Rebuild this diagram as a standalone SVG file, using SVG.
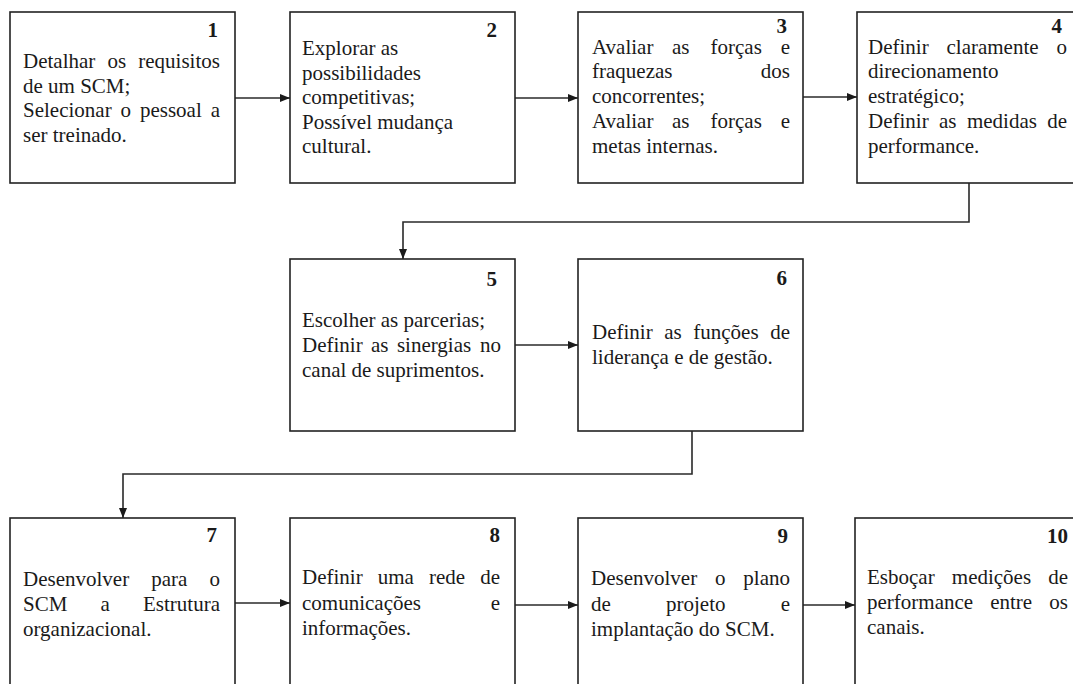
<svg xmlns="http://www.w3.org/2000/svg" width="1073" height="684" viewBox="0 0 1073 684">
  <style>
    .box { fill: #ffffff; stroke: #222222; stroke-width: 1.6; }
    .t { font-family: 'Liberation Serif', Tinos, 'Times New Roman', 'DejaVu Serif', serif; font-size: 21px; fill: #1a1a1a; }
    .n { font-family: 'Liberation Serif', Tinos, 'Times New Roman', 'DejaVu Serif', serif; font-size: 21px; font-weight: bold; fill: #1a1a1a; text-anchor: end; }
    .link { fill: none; stroke: #2a2a2a; stroke-width: 1.6; marker-end: url(#arrow); }
  </style>
  <defs>
    <marker id="arrow" markerUnits="userSpaceOnUse" markerWidth="10" markerHeight="8" refX="10" refY="4" orient="auto">
      <path d="M0,0 L10,4 L0,8 Z" fill="#1a1a1a"/>
    </marker>
  </defs>
  <rect width="1073" height="684" fill="#ffffff"/>

  <!-- connectors -->
  <g id="connectors">
    <path class="link" d="M235,98 H290"/>
    <path class="link" d="M515,98 H578"/>
    <path class="link" d="M803,97 H857"/>
    <path class="link" d="M969,183 V222 H403 V259"/>
    <path class="link" d="M515,345 H578"/>
    <path class="link" d="M692,431 V474 H123 V518"/>
    <path class="link" d="M235,603 H290"/>
    <path class="link" d="M515,605 H578"/>
    <path class="link" d="M803,605 H855"/>
  </g>

  <!-- step 1 -->
  <g id="step1">
    <rect class="box" x="10" y="12" width="225" height="171"/>
    <text class="n" x="218" y="37">1</text>
    <text class="t" y="68"><tspan x="23">Detalhar</tspan><tspan x="107.5">os</tspan><tspan x="138.3">requisitos</tspan></text>
    <text class="t" x="23" y="92.5">de um SCM;</text>
    <text class="t" y="117"><tspan x="23">Selecionar</tspan><tspan x="120.5">o</tspan><tspan x="139.9">pessoal</tspan><tspan x="210.7">a</tspan></text>
    <text class="t" x="23" y="141.5">ser treinado.</text>
  </g>

  <!-- step 2 -->
  <g id="step2">
    <rect class="box" x="290" y="12" width="225" height="171"/>
    <text class="n" x="497" y="37">2</text>
    <text class="t" x="302" y="55">Explorar as</text>
    <text class="t" x="302" y="79.5">possibilidades</text>
    <text class="t" x="302" y="104">competitivas;</text>
    <text class="t" x="302" y="128.5">Possível mudança</text>
    <text class="t" x="302" y="153">cultural.</text>
  </g>

  <!-- step 3 -->
  <g id="step3">
    <rect class="box" x="578" y="12" width="225" height="171"/>
    <text class="n" x="787" y="33">3</text>
    <text class="t" y="53.5"><tspan x="592">Avaliar</tspan><tspan x="672">as</tspan><tspan x="710.5">forças</tspan><tspan x="780.7">e</tspan></text>
    <text class="t" y="78.3"><tspan x="592">fraquezas</tspan><tspan x="760.8">dos</tspan></text>
    <text class="t" x="592" y="103">concorrentes;</text>
    <text class="t" y="127.8"><tspan x="592">Avaliar</tspan><tspan x="672">as</tspan><tspan x="710.5">forças</tspan><tspan x="780.7">e</tspan></text>
    <text class="t" x="592" y="152.5">metas internas.</text>
  </g>

  <!-- step 4 -->
  <g id="step4">
    <rect class="box" x="857" y="12" width="225" height="171"/>
    <text class="n" x="1062" y="33">4</text>
    <text class="t" y="53.5"><tspan x="868">Definir</tspan><tspan x="946.5">claramente</tspan><tspan x="1056.5">o</tspan></text>
    <text class="t" x="868" y="78.3">direcionamento</text>
    <text class="t" x="868" y="103">estratégico;</text>
    <text class="t" y="127.8"><tspan x="868">Definir</tspan><tspan x="939">as</tspan><tspan x="966.9">medidas</tspan><tspan x="1047.2">de</tspan></text>
    <text class="t" x="868" y="152.5">performance.</text>
  </g>

  <!-- step 5 -->
  <g id="step5">
    <rect class="box" x="290" y="259" width="225" height="172"/>
    <text class="n" x="497" y="286">5</text>
    <text class="t" x="302" y="327">Escolher as parcerias;</text>
    <text class="t" y="351.7"><tspan x="302">Definir</tspan><tspan x="371">as</tspan><tspan x="396.9">sinergias</tspan><tspan x="480">no</tspan></text>
    <text class="t" x="302" y="376.5">canal de suprimentos.</text>
  </g>

  <!-- step 6 -->
  <g id="step6">
    <rect class="box" x="578" y="259" width="225" height="172"/>
    <text class="n" x="787" y="285">6</text>
    <text class="t" y="339"><tspan x="592">Definir</tspan><tspan x="664.2">as</tspan><tspan x="693.3">funções</tspan><tspan x="770.2">de</tspan></text>
    <text class="t" x="592" y="364">liderança e de gestão.</text>
  </g>

  <!-- step 7 -->
  <g id="step7">
    <rect class="box" x="10" y="518" width="225" height="190"/>
    <text class="n" x="217" y="542">7</text>
    <text class="t" y="586"><tspan x="23">Desenvolver</tspan><tspan x="151.3">para</tspan><tspan x="209.5">o</tspan></text>
    <text class="t" y="611"><tspan x="23">SCM</tspan><tspan x="100.6">a</tspan><tspan x="143">Estrutura</tspan></text>
    <text class="t" x="23" y="636">organizacional.</text>
  </g>

  <!-- step 8 -->
  <g id="step8">
    <rect class="box" x="290" y="518" width="225" height="190"/>
    <text class="n" x="500" y="542">8</text>
    <text class="t" y="584"><tspan x="302">Definir</tspan><tspan x="377.7">uma</tspan><tspan x="429">rede</tspan><tspan x="480.2">de</tspan></text>
    <text class="t" y="609.5"><tspan x="302">comunicações</tspan><tspan x="490.7">e</tspan></text>
    <text class="t" x="302" y="634.5">informações.</text>
  </g>

  <!-- step 9 -->
  <g id="step9">
    <rect class="box" x="578" y="518" width="225" height="190"/>
    <text class="n" x="788" y="543">9</text>
    <text class="t" y="585"><tspan x="591">Desenvolver</tspan><tspan x="715">o</tspan><tspan x="743.3">plano</tspan></text>
    <text class="t" y="610.5"><tspan x="591">de</tspan><tspan x="666">projeto</tspan><tspan x="780.7">e</tspan></text>
    <text class="t" x="591" y="636">implantação do SCM.</text>
  </g>

  <!-- step 10 -->
  <g id="step10">
    <rect class="box" x="855" y="518" width="225" height="190"/>
    <text class="n" x="1068" y="543">10</text>
    <text class="t" y="583.5"><tspan x="867">Esboçar</tspan><tspan x="951.8">medições</tspan><tspan x="1048.2">de</tspan></text>
    <text class="t" y="608.5"><tspan x="867">performance</tspan><tspan x="990.2">entre</tspan><tspan x="1049.3">os</tspan></text>
    <text class="t" x="867" y="634">canais.</text>
  </g>
</svg>
